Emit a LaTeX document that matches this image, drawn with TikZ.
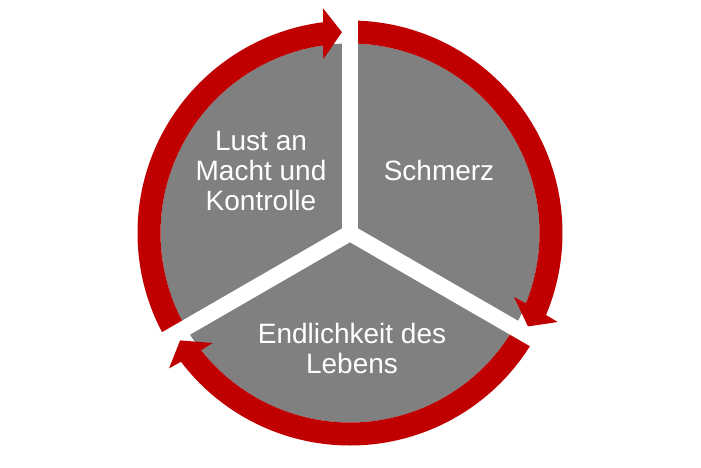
\documentclass[tikz,border=0pt]{standalone}
\usepackage{fontspec}
\setmainfont{Liberation Sans}
\definecolor{ringred}{RGB}{192,0,0}
\definecolor{piegrey}{RGB}{128,128,128}
\tikzset{
  cyclearrow/.style={fill=ringred, draw=none},
  gapstrip/.style={draw=white, line width=16pt},
  label/.style={text=white, font=\fontsize{28}{30}\selectfont, align=center, inner sep=0pt}
}
\begin{document}
\begin{tikzpicture}[x=1pt,y=1pt]
\useasboundingbox (0,0) rectangle (701,467);
\fill[white] (0,0) rectangle (701,467);
\begin{scope}[shift={(350,234)}]
  \coordinate (c) at (0,0);
  \fill[piegrey] (c) circle[radius=189.5];
  % arrow 1: lower-left to top
  \fill[cyclearrow] (210:212.5) arc[start angle=210, end angle=97.3, radius=212.5]
    -- (96.8:226) -- (92.3:201) -- (98.7:176) -- (98.2:189.5)
    arc[start angle=98.2, end angle=210, radius=189.5] -- cycle;
  % arrow 2: top to lower-right
  \fill[cyclearrow] (90:212.5) arc[start angle=90, end angle=-22.7, radius=212.5]
    -- (-23.2:226) -- (-27.7:201) -- (-21.3:176) -- (-21.8:189.5)
    arc[start angle=-21.8, end angle=90, radius=189.5] -- cycle;
  % arrow 3: lower-right to lower-left
  \fill[cyclearrow] (-30:212.5) arc[start angle=-30, end angle=-142.7, radius=212.5]
    -- (-143.2:226) -- (-147.7:201) -- (-141.3:176) -- (-141.8:189.5)
    arc[start angle=-141.8, end angle=-30, radius=189.5] -- cycle;
  \coordinate (g1) at (90:240);
  \coordinate (g2) at (210:240);
  \coordinate (g3) at (330:240);
  \draw[gapstrip] (c) -- (g1);
  \draw[gapstrip] (c) -- (g2);
  \draw[gapstrip] (c) -- (g3);
\end{scope}
\node[label, anchor=base] (lust) at (261,257) {Lust an\\Macht und\\Kontrolle};
\node[label, anchor=base] (schmerz) at (439,287) {Schmerz};
\node[label, anchor=base] (endlich) at (352,94) {Endlichkeit des\\Lebens};
\end{tikzpicture}
\end{document}
